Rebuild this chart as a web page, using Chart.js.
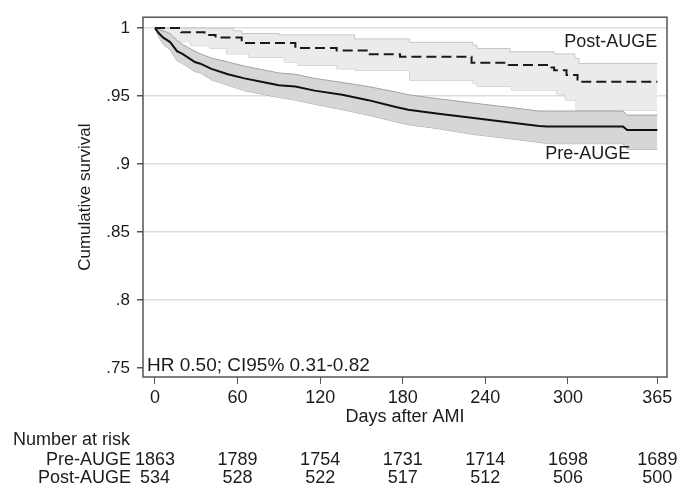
<!DOCTYPE html>
<html>
<head>
<meta charset="utf-8">
<script src="https://cdn.jsdelivr.net/npm/chart.js@4.4.0/dist/chart.umd.min.js"></script>
<style>
  html, body { margin: 0; padding: 0; background: #fff; }
</style>
</head>
<body>
<canvas id="kmChart" width="677" height="489"></canvas>
<script>
// curva Pre-AUGE (linea continua) y su IC 95%
var preDias   = [0, 3, 6, 11, 16, 20, 29, 33, 41, 53, 65, 80, 90, 102, 116, 136, 155, 175, 184, 206, 230, 255, 279, 285, 340, 343, 365];
var preSuperv = [1, 0.996, 0.993, 0.9897, 0.983, 0.981, 0.975, 0.9738, 0.970, 0.966, 0.963, 0.960, 0.958, 0.957, 0.954, 0.951, 0.947, 0.942, 0.940, 0.937, 0.934, 0.931, 0.928, 0.9277, 0.9277, 0.925, 0.925];
var preSup    = [1, 0.999, 0.998, 0.996, 0.991, 0.988, 0.983, 0.981, 0.978, 0.975, 0.972, 0.969, 0.967, 0.966, 0.963, 0.960, 0.957, 0.953, 0.951, 0.948, 0.945, 0.942, 0.939, 0.939, 0.939, 0.936, 0.936];
var preInf    = [1, 0.993, 0.988, 0.984, 0.976, 0.974, 0.968, 0.967, 0.962, 0.958, 0.954, 0.951, 0.949, 0.947, 0.944, 0.940, 0.936, 0.931, 0.929, 0.926, 0.922, 0.919, 0.916, 0.915, 0.915, 0.911, 0.911];

// curva Post-AUGE (discontinua) y su IC 95%
var postDias   = [0, 19, 36, 44, 63, 102, 132, 155, 178, 230, 257, 286, 290, 299, 307, 365];
var postSuperv = [1, 0.997, 0.995, 0.993, 0.989, 0.9853, 0.9836, 0.9807, 0.979, 0.9745, 0.9728, 0.971, 0.969, 0.9655, 0.9605, 0.9605];
var postSupDias = [0, 57, 63, 90, 145, 185, 231, 234, 258, 290, 305, 308, 365];
var postSup     = [1, 0.998, 0.996, 0.995, 0.992, 0.9895, 0.9875, 0.985, 0.9826, 0.981, 0.9777, 0.974, 0.974];
var postInfDias = [0, 3, 8, 15, 26, 40, 52, 68, 94, 104, 132, 145, 185, 231, 234, 259, 292, 298, 306, 365];
var postInf     = [1, 0.996, 0.993, 0.990, 0.987, 0.985, 0.981, 0.9785, 0.975, 0.9726, 0.970, 0.969, 0.9616, 0.9594, 0.957, 0.9544, 0.9515, 0.947, 0.9397, 0.9397];

// ejes y tabla de riesgo
var ticksX = [0, 60, 120, 180, 240, 300, 365];
var ticksY = [0.75, 0.8, 0.85, 0.9, 0.95, 1];
var riesgoPre  = [1863, 1789, 1754, 1731, 1714, 1698, 1689];
var riesgoPost = [534, 528, 522, 517, 512, 506, 500];

var fuente = '"Liberation Sans", Arial, sans-serif';
var colorTexto = '#1c1c1c';

function puntos(xs, ys) {
  return xs.map(function(d, i) { return {x: d, y: ys[i]}; });
}

function etiquetaY(v) {
  if (v === 1) return '1';
  return v.toFixed(2).replace(/0$/, '').replace(/^0/, '');
}

var pluginTextos = {
  id: 'textosExtra',
  afterDraw: function(chart) {
    var ctx = chart.ctx;
    var area = chart.chartArea;
    var sx = chart.scales.x;
    var sy = chart.scales.y;
    ctx.save();
    // marco del grafico
    ctx.strokeStyle = '#555';
    ctx.lineWidth = 1.5;
    ctx.strokeRect(area.left, area.top, area.right - area.left, area.bottom - area.top);

    ctx.fillStyle = colorTexto;
    ctx.textBaseline = 'middle';
    ctx.font = '18px ' + fuente;
    // etiquetas de las curvas
    ctx.textAlign = 'right';
    ctx.fillText('Post-AUGE', sx.getPixelForValue(365), sy.getPixelForValue(0.9897));
    ctx.textAlign = 'left';
    ctx.fillText('Pre-AUGE', sx.getPixelForValue(283.5), sy.getPixelForValue(0.9074));
    ctx.font = '19px ' + fuente;
    ctx.fillText('HR 0.50; CI95% 0.31-0.82', sx.getPixelForValue(-5.8), sy.getPixelForValue(0.7515));

    // numero en riesgo
    ctx.font = '18px ' + fuente;
    ctx.textAlign = 'left';
    ctx.fillText('Number at risk', 13, 440);
    ctx.textAlign = 'right';
    ctx.fillText('Pre-AUGE', 131, 460);
    ctx.fillText('Post-AUGE', 131, 478);
    ctx.textAlign = 'center';
    for (var i = 0; i < ticksX.length; i++) {
      var px = sx.getPixelForValue(ticksX[i]);
      ctx.fillText(String(riesgoPre[i]), px, 460);
      ctx.fillText(String(riesgoPost[i]), px, 478);
    }
    ctx.restore();
  }
};

var datos = {
  datasets: [
    {
      label: 'Post-AUGE',
      data: puntos(postDias, postSuperv),
      borderColor: '#1a1a1a',
      borderWidth: 2,
      borderDash: [10, 5],
      pointRadius: 0,
      stepped: true,
      fill: false
    },
    {
      label: 'Pre-AUGE',
      data: puntos(preDias, preSuperv),
      borderColor: '#111',
      borderWidth: 2,
      pointRadius: 0,
      fill: false
    },
    {
      label: 'Pre sup',
      data: puntos(preDias, preSup),
      borderColor: '#a2a2a2',
      borderWidth: 1,
      pointRadius: 0,
      backgroundColor: 'rgb(214, 214, 214)',
      fill: '+1'
    },
    {
      label: 'Pre inf',
      data: puntos(preDias, preInf),
      borderColor: '#a2a2a2',
      borderWidth: 1,
      pointRadius: 0,
      fill: false
    },
    {
      label: 'Post sup',
      data: puntos(postSupDias, postSup),
      borderColor: '#c6c6c6',
      borderWidth: 1,
      pointRadius: 0,
      stepped: true,
      backgroundColor: 'rgb(235, 235, 235)',
      fill: '+1'
    },
    {
      label: 'Post inf',
      data: puntos(postInfDias, postInf),
      borderColor: '#c6c6c6',
      borderWidth: 1,
      pointRadius: 0,
      stepped: true,
      fill: false
    }
  ]
};

var opciones = {
  responsive: false,
  animation: false,
  layout: { padding: { left: 71, right: 10, top: 15, bottom: 57 } },
  plugins: {
    legend: { display: false },
    tooltip: { enabled: false }
  },
  scales: {
    x: {
      type: 'linear',
      min: -8.7,
      max: 372,
      afterBuildTicks: function(axis) {
        axis.ticks = ticksX.map(function(v) { return {value: v}; });
      },
      afterFit: function(axis) { axis.height = 55; },
      grid: { drawOnChartArea: false, drawTicks: true, tickLength: 7, tickColor: '#555' },
      border: { display: false },
      ticks: { color: colorTexto, padding: 3, maxRotation: 0, font: { family: fuente, size: 18 } },
      title: {
        display: true,
        text: 'Days after AMI',
        color: colorTexto,
        padding: { top: 0, bottom: 4 },
        font: { family: fuente, size: 18 }
      }
    },
    y: {
      type: 'linear',
      min: 0.7434,
      max: 1.008,
      afterBuildTicks: function(axis) {
        axis.ticks = ticksY.map(function(v) { return {value: v}; });
      },
      afterFit: function(axis) { axis.width = 72; },
      grid: {
        color: function(c) { return (c.tick && c.tick.value < 0.76) ? 'rgba(0,0,0,0)' : '#dedede'; },
        lineWidth: 1.5,
        tickLength: 6,
        tickColor: '#555'
      },
      border: { display: false },
      ticks: {
        color: colorTexto,
        padding: 7,
        font: { family: fuente, size: 17 },
        callback: function(v) { return etiquetaY(v); }
      },
      title: {
        display: true,
        text: 'Cumulative survival',
        color: colorTexto,
        padding: { top: 4, bottom: 4 },
        font: { family: fuente, size: 17 }
      }
    }
  }
};

var ctx = document.getElementById('kmChart').getContext('2d');
var kmChart = new Chart(ctx, {
  type: 'line',
  data: datos,
  options: opciones,
  plugins: [pluginTextos]
});
</script>
</body>
</html>
